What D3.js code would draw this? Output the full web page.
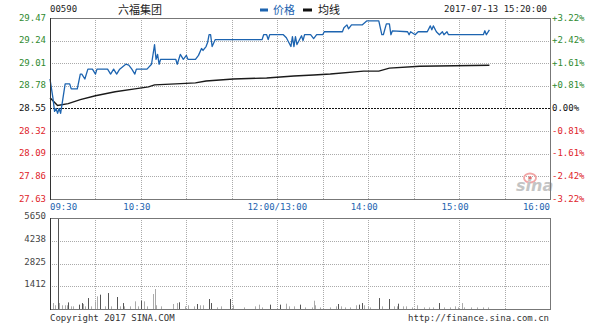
<!DOCTYPE html>
<html>
<head>
<meta charset="utf-8">
<script src="https://cdn.jsdelivr.net/npm/d3@7"></script>
<style>
  body { margin: 0; background: #fff; }
  svg text { font-family: "DejaVu Sans Mono", "Liberation Mono", monospace; font-size: 9px; }
  .cjk { font-family: "Noto Sans CJK SC", sans-serif !important; font-size: 11px !important; }
</style>
</head>
<body>
<div id="chart"></div>
<script>
// stock & session
const code = "00590";
const name = "六福集团";
const stamp = "2017-07-13 15:20:00";
const prevClose = 28.55;

// price line (vertices)
const priceTimes = ["09:30","09:32","09:33","09:34","09:35","09:36","09:37","09:38","09:40","09:43","09:44","09:48",
  "09:50","09:51","09:53","09:55","09:58","10:00","10:01","10:08","10:10","10:12","10:14","10:16","10:20","10:22",
  "10:24","10:26","10:27","10:34","10:37","10:39","10:40","10:41","10:42","10:43","10:53","10:54","10:56","10:58",
  "11:00","11:01","11:06","11:08","11:10","11:11","11:13","11:14","11:15","11:16","11:17","11:19","11:50","11:51",
  "11:53","11:54","11:55","13:04","13:06","13:09","13:10","13:11","13:12","13:13","13:16","13:17","13:18","13:22",
  "13:24","13:26","13:30","13:31","13:43","13:44","13:46","13:47","13:49","13:56","13:59","14:07","14:09","14:10",
  "14:12","14:14","14:15","14:16","14:26","14:27","14:28","14:31","14:33","14:39","14:41","14:42","14:43","14:45",
  "14:47","14:49","14:50","14:52","14:53","15:16","15:17","15:18","15:20"];
const prices = [28.85,28.65,28.52,28.55,28.50,28.55,28.50,28.60,28.80,28.80,28.75,28.75,
  28.90,28.90,28.85,28.95,28.95,28.90,28.95,28.95,28.90,28.95,28.90,28.95,29.00,28.99,
  28.95,28.90,28.95,28.95,29.00,29.20,29.05,29.10,29.00,29.05,29.05,29.00,29.10,29.05,
  29.09,29.05,29.05,29.09,29.16,29.14,29.18,29.22,29.30,29.30,29.18,29.25,29.25,29.30,
  29.30,29.25,29.30,29.30,29.27,29.18,29.28,29.18,29.28,29.20,29.29,29.24,29.30,29.30,
  29.26,29.30,29.30,29.33,29.33,29.37,29.40,29.36,29.40,29.40,29.44,29.44,29.30,29.30,
  29.41,29.41,29.30,29.34,29.33,29.30,29.33,29.30,29.33,29.33,29.39,29.35,29.39,29.33,
  29.30,29.33,29.30,29.33,29.30,29.30,29.34,29.30,29.35];

// average price line
const avgTimes = ["09:30","09:35","09:42","09:50","10:00","10:13","10:26","10:35","10:39","10:53","11:06","11:13",
  "11:31","11:53","13:11","13:24","13:35","13:57","14:07","14:14","14:34","14:57","15:20"];
const avgPrices = [28.66,28.58,28.60,28.64,28.68,28.72,28.75,28.77,28.79,28.80,28.81,28.83,
  28.85,28.86,28.88,28.89,28.90,28.93,28.93,28.96,28.98,28.985,28.99];

// volume (minute bars that are visible), volUp: 1 = dark bar
const volTimes = ["09:32","09:33","09:35","09:36","09:38","09:40","09:41","09:42","09:44","09:45","09:49","09:51",
  "09:52","09:53","09:55","09:57","10:00","10:01","10:03","10:06","10:08","10:10","10:14","10:16","10:18","10:19",
  "10:23","10:26","10:28","10:30","10:32","10:34","10:38","10:39","10:40","10:43","10:51","10:54","10:55","10:59",
  "11:01","11:05","11:07","11:09","11:11","11:15","11:16","11:20","11:23","11:29","11:31","11:38","11:45","11:48",
  "11:50","11:55","13:02","13:06","13:08","13:11","13:15","13:18","13:23","13:24","13:25","13:28","13:35","13:39",
  "13:40","13:42","13:45","13:48","13:52","13:54","13:56","13:57","14:00","14:01","14:07","14:09","14:14","14:17",
  "14:19","14:20","14:23","14:25","14:29","14:32","14:37","14:40","14:43","14:47","14:50","14:54","14:57","14:59",
  "15:02","15:03","15:08","15:12","15:16","15:19"];
const volValues = [372,230,5650,372,230,230,230,410,165,165,270,370,
  310,165,680,165,475,785,890,165,990,165,745,165,370,165,
  165,475,165,515,475,165,930,1240,230,165,310,370,415,165,
  230,165,310,230,230,620,370,100,165,620,230,100,165,270,
  100,270,270,330,165,165,270,100,100,515,230,100,100,165,
  310,165,100,100,230,270,370,230,165,100,680,165,620,165,
  165,330,165,165,100,230,100,100,100,370,100,100,165,100,
  370,100,100,100,100,100];
const volUp = [0,0,1,0,0,0,0,1,0,0,1,1,
  0,0,1,0,0,0,1,0,1,0,1,0,1,0,
  0,0,0,1,0,0,0,0,0,0,0,0,1,0,
  0,0,1,0,0,1,1,0,0,1,0,0,0,0,
  0,1,1,0,0,0,1,0,0,0,0,0,0,0,
  1,0,0,0,0,1,1,0,0,0,1,0,1,0,
  0,1,0,0,0,0,0,0,0,1,0,0,0,0,
  0,0,0,0,0,0];

// axes
const gridTimes = ["09:30","10:00","10:30","11:00","11:30","12:00","13:30","14:00","14:30","15:00","15:30","16:00"];
const labelTimes = ["09:30","10:30","12:00","14:00","15:00","16:00"];
const timeLabels = ["09:30","10:30","12:00/13:00","14:00","15:00","16:00"];
const priceTicks = [29.47,29.24,29.01,28.78,28.55,28.32,28.09,27.86,27.63];
const pctLabels = ["+3.22%","+2.42%","+1.61%","+0.81%","0.00%","-0.81%","-1.61%","-2.42%","-3.22%"];
const volTicks = [5650,4238,2825,1412];

// minutes since open, lunch break removed
function toMin(t) {
  const [h, m] = t.split(":").map(Number);
  let v = h * 60 + m - 570;
  if (h >= 13) v -= 60;
  return v;
}

const W = 600, H = 327;
const left = 50, right = 550;
const top1 = 18, bot1 = 199, top2 = 218, bot2 = 309;

const svg = d3.select("#chart").append("svg")
  .attr("width", W).attr("height", H);

const x = d3.scaleLinear().domain([0, 330]).range([left, right]);
const y = d3.scaleLinear().domain([27.63, 29.47]).range([bot1, top1]);
const yv = d3.scaleLinear().domain([0, 5650]).range([bot2, top2]);

const green = "#2f8a2f", red = "#e0242a", blue = "#1d64b0";

// ---- header
svg.append("text").attr("x", 50).attr("y", 12).attr("fill", "#222").text(code);
svg.append("text").attr("class", "cjk").attr("x", 118).attr("y", 14).attr("fill", "#222").text(name);
svg.append("rect").attr("x", 260).attr("y", 8.5).attr("width", 8).attr("height", 3).attr("fill", blue);
svg.append("text").attr("class", "cjk").attr("x", 273).attr("y", 14).attr("fill", blue).text("价格");
svg.append("rect").attr("x", 303).attr("y", 8.5).attr("width", 9).attr("height", 3).attr("fill", "#111");
svg.append("text").attr("class", "cjk").attr("x", 318).attr("y", 14).attr("fill", "#111").text("均线");
svg.append("text").attr("x", 547).attr("y", 12).attr("text-anchor", "end").attr("fill", "#222").text(stamp);

// ---- grids
function vGrid(y0, y1) {
  svg.append("g").selectAll("line")
    .data(gridTimes.slice(1, -1))
    .enter().append("line")
    .attr("x1", d => Math.round(x(toMin(d))) + 0.5).attr("x2", d => Math.round(x(toMin(d))) + 0.5)
    .attr("y1", y0).attr("y2", y1)
    .attr("stroke", "#aaa").attr("stroke-dasharray", "1,1");
}
vGrid(top1, bot1);
vGrid(top2, bot2);

svg.append("g").selectAll("line")
  .data(priceTicks.filter(d => d !== prevClose).slice(1, -1))
  .enter().append("line")
  .attr("x1", left).attr("x2", right)
  .attr("y1", d => Math.round(y(d)) + 0.5).attr("y2", d => Math.round(y(d)) + 0.5)
  .attr("stroke", "#aaa").attr("stroke-dasharray", "1,1");

svg.append("line")
  .attr("x1", left).attr("x2", right)
  .attr("y1", Math.round(y(prevClose)) + 0.5).attr("y2", Math.round(y(prevClose)) + 0.5)
  .attr("stroke", "#111").attr("stroke-dasharray", "2,1");

svg.append("g").selectAll("line")
  .data(volTicks.slice(1))
  .enter().append("line")
  .attr("x1", left).attr("x2", right)
  .attr("y1", d => Math.round(yv(d)) + 0.5).attr("y2", d => Math.round(yv(d)) + 0.5)
  .attr("stroke", "#aaa").attr("stroke-dasharray", "1,1");

// ---- sina watermark
const logo = svg.append("g").attr("transform", "translate(516,172)");
logo.append("ellipse").attr("cx", 14).attr("cy", 6).attr("rx", 6).attr("ry", 4.5)
  .attr("fill", "none").attr("stroke", "#f2a6a6").attr("stroke-width", 1.8);
logo.append("circle").attr("cx", 14).attr("cy", 6).attr("r", 1.8).attr("fill", "#e07070");
logo.append("text").attr("x", 0).attr("y", 19)
  .style("font-family", "DejaVu Sans").style("font-size", "16px")
  .style("font-style", "italic").style("font-weight", "bold")
  .attr("fill", "#c4c4c4").text("sina");

// ---- volume bars
svg.append("g").selectAll("rect")
  .data(volTimes)
  .enter().append("rect")
  .attr("x", d => Math.round(x(toMin(d))))
  .attr("width", 1)
  .attr("y", (d, i) => yv(volValues[i]))
  .attr("height", (d, i) => bot2 - yv(volValues[i]))
  .attr("fill", (d, i) => volUp[i] ? "#555" : "#aaa");

// ---- lines
const avgLine = d3.line()
  .x(d => x(toMin(d))).y((d, i) => y(avgPrices[i]));
svg.append("path").attr("d", avgLine(avgTimes))
  .attr("fill", "none").attr("stroke", "#1a1a1a").attr("stroke-width", 1.4);

const priceLine = d3.line()
  .x(d => x(toMin(d))).y((d, i) => y(prices[i]));
svg.append("path").attr("d", priceLine(priceTimes))
  .attr("fill", "none").attr("stroke", blue).attr("stroke-width", 1.3)
  .attr("stroke-linejoin", "round");

// ---- frames
[[top1, bot1], [top2, bot2]].forEach(([a, b]) => {
  svg.append("rect").attr("x", left + 0.5).attr("y", a + 0.5)
    .attr("width", right - left).attr("height", b - a)
    .attr("fill", "none").attr("stroke", "#777");
  svg.append("line").attr("x1", left + 0.5).attr("x2", left + 0.5).attr("y1", a).attr("y2", b + 1)
    .attr("stroke", "#333");
});

// ---- price labels
svg.append("g").selectAll("text")
  .data(priceTicks)
  .enter().append("text")
  .attr("x", 46).attr("y", d => y(d) + 2.5)
  .attr("text-anchor", "end")
  .attr("fill", d => d > prevClose ? green : d < prevClose ? red : "#111")
  .text(d => d.toFixed(2));

svg.append("g").selectAll("text")
  .data(pctLabels)
  .enter().append("text")
  .attr("x", 552).attr("y", (d, i) => y(priceTicks[i]) + 2.5)
  .attr("fill", (d, i) => priceTicks[i] > prevClose ? green : priceTicks[i] < prevClose ? red : "#111")
  .text(d => d);

// ---- time labels
svg.append("g").selectAll("text")
  .data(labelTimes)
  .enter().append("text")
  .attr("x", d => x(toMin(d)))
  .attr("dx", (d, i) => (i === 0 || i === labelTimes.length - 1 || d === "12:00") ? 0 : -4)
  .attr("y", 210)
  .attr("text-anchor", (d, i) => i === 0 ? "start" : i === labelTimes.length - 1 ? "end" : "middle")
  .attr("fill", blue)
  .text((d, i) => timeLabels[i]);

// ---- volume labels
svg.append("g").selectAll("text")
  .data(volTicks)
  .enter().append("text")
  .attr("x", 46).attr("y", d => yv(d) + 1)
  .attr("text-anchor", "end")
  .attr("fill", "#444")
  .text(d => d);

// ---- footer
svg.append("text").attr("x", 50).attr("y", 321).attr("fill", "#333").text("Copyright 2017 SINA.COM");
svg.append("text").attr("x", 549).attr("y", 321).attr("text-anchor", "end").attr("fill", "#333")
  .text("http://finance.sina.com.cn");
</script>
</body>
</html>
